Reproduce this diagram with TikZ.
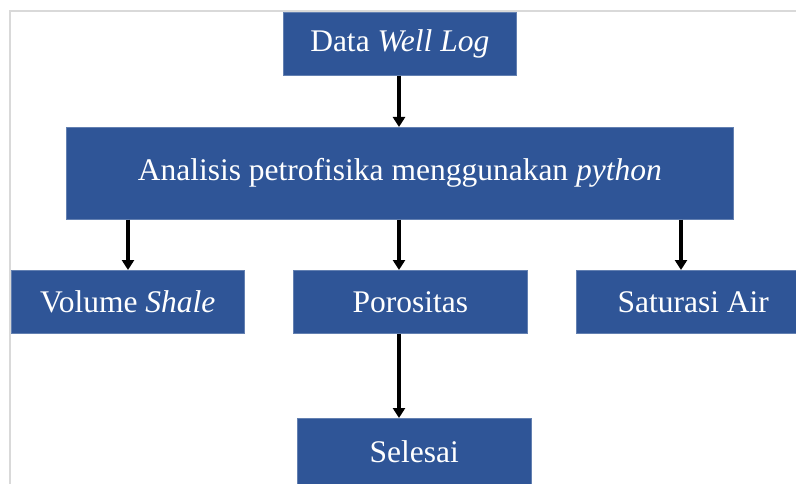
\documentclass[tikz,border=0pt]{standalone}
\usepackage{fontspec}
\setmainfont{Liberation Serif}
\usetikzlibrary{arrows.meta}
\definecolor{boxblue}{RGB}{47,85,151}
\definecolor{frame}{RGB}{217,217,217}
\begin{document}
\begin{tikzpicture}[x=1pt,y=-1pt,
  box/.style={fill=boxblue, draw=boxblue!75!white, line width=0.6pt, text=white,
    font=\fontsize{31.5}{36}\selectfont, inner sep=0pt, anchor=north west},
  arr/.style={line width=3.5pt, -{Triangle[width=12pt,length=10pt]}}]
\clip (0,0) rectangle (796,484);
\fill[white] (0,0) rectangle (796,484);
\draw[frame, line width=1.5pt] (10,490) -- (10,11) -- (800,11);
\node[box, minimum width=233pt, minimum height=63pt] (data) at (283,12) {\raisebox{-1.5pt}{Data \textit{Well Log}}};
\node[box, minimum width=667pt, minimum height=92pt] (ana) at (66,127) {Analisis petrofisika menggunakan \textit{python}};
\node[box, minimum width=233pt, minimum height=63pt] (vol) at (11,270) {Volume \textit{Shale}};
\node[box, minimum width=234pt, minimum height=63pt] (por) at (293,270) {Porositas};
\node[box, minimum width=234pt, minimum height=63pt] (sat) at (576,270) {Saturasi Air};
\node[box, minimum width=234pt, minimum height=66pt] (sel) at (297,418) {Selesai};
\coordinate (xv) at (128,0);
\coordinate (xp) at (399,0);
\coordinate (xs) at (681,0);
\draw[arr] (data.south -| xp) -- (ana.north -| xp);
\draw[arr] (ana.south -| xv) -- (vol.north -| xv);
\draw[arr] (ana.south -| xp) -- (por.north -| xp);
\draw[arr] (ana.south -| xs) -- (sat.north -| xs);
\draw[arr] (por.south -| xp) -- (sel.north -| xp);
\end{tikzpicture}
\end{document}
